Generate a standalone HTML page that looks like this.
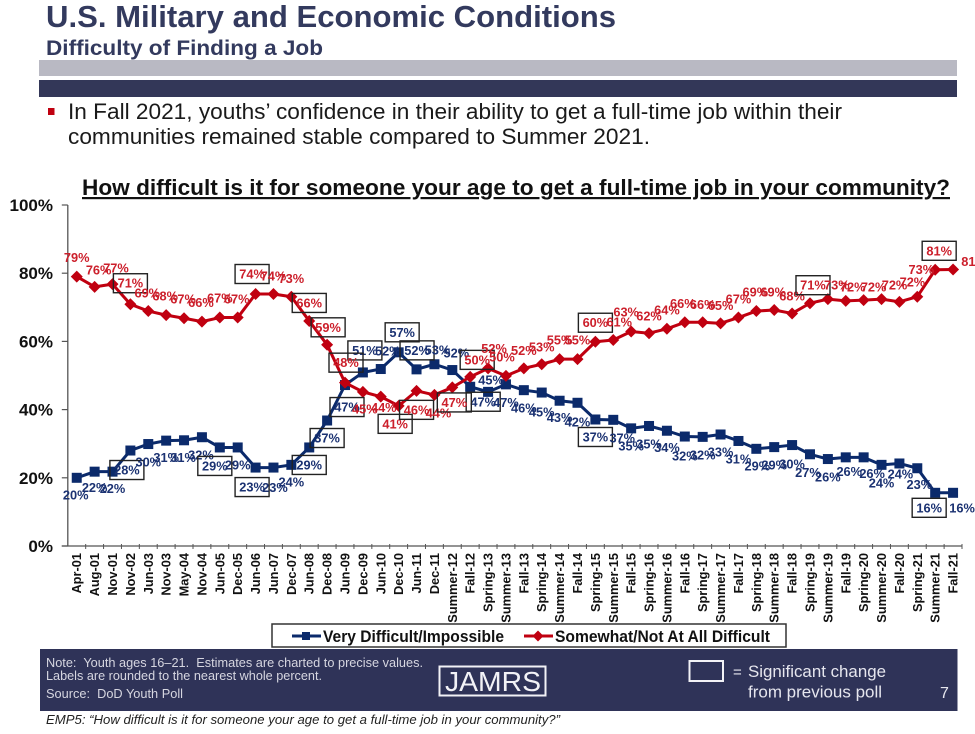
<!DOCTYPE html>
<html lang="en">
<head>
<meta charset="utf-8">
<title>Difficulty of Finding a Job</title>
<style>
html,body{margin:0;padding:0;background:#fff;width:975px;height:734px;overflow:hidden}
svg{display:block;font-family:"Liberation Sans",Arial,sans-serif;filter:blur(0.35px)}
</style>
</head>
<body>
<svg id="slide" xmlns="http://www.w3.org/2000/svg" width="975" height="734" viewBox="0 0 975 734">
  <rect x="0" y="0" width="975" height="734" fill="#ffffff"/>
  <text x="46" y="27" font-size="31" font-weight="700" fill="#333a5e" textLength="570" lengthAdjust="spacingAndGlyphs">U.S. Military and Economic Conditions</text>
  <text x="46" y="55" font-size="21.5" font-weight="700" fill="#333a5e" textLength="277" lengthAdjust="spacingAndGlyphs">Difficulty of Finding a Job</text>
  <rect x="39" y="60" width="918" height="16" fill="#b9b9c3"/>
  <rect x="39" y="80" width="918" height="17" fill="#333758"/>
  <rect x="48" y="108" width="6.5" height="7" fill="#c00010"/>
  <text x="68" y="119" font-size="22" fill="#1a1a1a" textLength="774" lengthAdjust="spacingAndGlyphs">In Fall 2021, youths’ confidence in their ability to get a full-time job within their</text>
  <text x="68" y="144" font-size="22" fill="#1a1a1a" textLength="582" lengthAdjust="spacingAndGlyphs">communities remained stable compared to Summer 2021.</text>
  <text x="82" y="195" font-size="22" font-weight="700" fill="#111" text-decoration="underline" textLength="868" lengthAdjust="spacingAndGlyphs">How difficult is it for someone your age to get a full-time job in your community?</text>

  <g id="chart"></g>

  <g>
    <rect x="272" y="624" width="514" height="23" fill="#fff" stroke="#333" stroke-width="1.5"/>
    <line x1="292" y1="636" x2="321" y2="636" stroke="#0b2a6b" stroke-width="3"/>
    <rect x="302" y="632" width="8" height="8" fill="#0b2a6b"/>
    <text x="323" y="642" font-size="16.5" font-weight="700" fill="#111" textLength="181" lengthAdjust="spacingAndGlyphs">Very Difficult/Impossible</text>
    <line x1="524" y1="636" x2="553" y2="636" stroke="#c00010" stroke-width="3"/>
    <polygon points="538,630.5 543.5,636 538,641.5 532.5,636" fill="#c00010"/>
    <text x="555" y="642" font-size="16.5" font-weight="700" fill="#111" textLength="215" lengthAdjust="spacingAndGlyphs">Somewhat/Not At All Difficult</text>
  </g>

  <g>
    <rect x="40" y="649" width="917.5" height="62" fill="#2f3358"/>
    <text x="46" y="667" font-size="12.5" fill="#d6d6e0" textLength="377" lengthAdjust="spacingAndGlyphs" xml:space="preserve">Note:  Youth ages 16–21.  Estimates are charted to precise values.</text>
    <text x="46" y="680" font-size="12.5" fill="#d6d6e0" textLength="276" lengthAdjust="spacingAndGlyphs">Labels are rounded to the nearest whole percent.</text>
    <text x="46" y="698" font-size="12.5" fill="#d6d6e0" textLength="137" lengthAdjust="spacingAndGlyphs" xml:space="preserve">Source:  DoD Youth Poll</text>
    <rect x="439.5" y="666.5" width="106" height="29" fill="none" stroke="#f2f2f6" stroke-width="2"/>
    <text x="445" y="691" font-size="28" fill="#f2f2f6" textLength="96" lengthAdjust="spacingAndGlyphs">JAMRS</text>
    <rect x="689.5" y="661" width="33.5" height="20" fill="none" stroke="#f2f2f6" stroke-width="2"/>
    <text x="733" y="677" font-size="15" fill="#e6e6ee">=</text>
    <text x="748" y="677" font-size="17" fill="#e6e6ee" textLength="138" lengthAdjust="spacingAndGlyphs">Significant change</text>
    <text x="748" y="697.5" font-size="17" fill="#e6e6ee" textLength="134" lengthAdjust="spacingAndGlyphs">from previous poll</text>
    <text x="940" y="698" font-size="16" fill="#e6e6ee">7</text>
  </g>
  <text x="46" y="724" font-size="12.5" font-style="italic" fill="#222" textLength="514" lengthAdjust="spacingAndGlyphs">EMP5:  “How difficult is it for someone your age to get a full-time job in your community?”</text>
</svg>

<script>
var categories = ["Apr-01","Aug-01","Nov-01","Nov-02","Jun-03","Nov-03","May-04","Nov-04","Jun-05","Dec-05","Jun-06","Jun-07","Dec-07","Jun-08","Dec-08","Jun-09","Dec-09","Jun-10","Dec-10","Jun-11","Dec-11","Summer-12","Fall-12","Spring-13","Summer-13","Fall-13","Spring-14","Summer-14","Fall-14","Spring-15","Summer-15","Fall-15","Spring-16","Summer-16","Fall-16","Spring-17","Summer-17","Fall-17","Spring-18","Summer-18","Fall-18","Spring-19","Summer-19","Fall-19","Spring-20","Summer-20","Fall-20","Spring-21","Summer-21","Fall-21"];
var veryDifficult = [20,21.8,21.8,28,29.9,30.9,31,31.9,28.9,28.9,23,23,23.8,28.9,36.8,47.2,50.9,51.9,56.8,51.8,53.3,51.6,46.7,45.2,47.4,45.7,45,42.6,42,37.1,37,34.5,35.2,33.8,32.1,32,32.7,30.8,28.5,29,29.6,26.9,25.5,26,26,23.8,24.2,22.8,15.6,15.6];
var somewhatDifficult = [79,76,76.8,70.9,68.9,67.7,66.8,65.8,67,67,73.9,73.9,73.1,66,59,47.9,45.2,43.8,41.1,45.5,44.3,46.5,49.6,52.1,49.9,52.1,53.3,54.8,54.8,59.9,60.4,62.9,62.4,63.7,65.6,65.6,65.3,67,68.9,69.2,68.2,71.2,72.4,71.9,72.1,72.4,71.6,73.1,81,81.1];
var veryLabels = [20,22,22,28,30,31,31,32,29,29,23,23,24,29,37,47,51,52,57,52,53,52,47,45,47,46,45,43,42,37,37,35,35,34,32,32,33,31,29,29,30,27,26,26,26,24,24,23,16,16];
var somewhatLabels = [79,76,77,71,69,68,67,66,67,67,74,74,73,66,59,48,45,44,41,46,44,47,50,52,50,52,53,55,55,60,61,63,62,64,66,66,65,67,69,69,68,71,73,72,72,72,72,73,81,81];
var yTicks = [0,20,40,60,80,100];
var veryChanged = [3,8,10,13,14,15,16,18,19,22,29,48];
var somewhatChanged = [3,10,13,14,15,18,19,21,22,29,41,48];

/* label placement nudges relative to each marker (layout, not data) */
var veryNudgeX = [-1,0,0,-3.5,0,0,-1,-1,-5,0,-3.5,1.5,0,0,0,2,2,7,3.5,0.5,3,4,13,3,0,0,0,0,0,0,9,0,0,0,0,0,0,0,1,0,0,-2,0,3.5,8.5,0,1,2,-6,9];
var veryNudgeY = [17,16,17,19.5,18,17,17,18,18.5,17.5,19.5,20,17,17.5,17.5,22,-22,-18,-20,-19,-14,-17,15,-12,18,18,19.5,17,19,17.5,18,17.5,18,17,19.5,18,17.5,18,17,18,19,18,18,14,16,18,10.5,16,15,15];
var somewhatNudgeX = [0,4,3.5,0,-1,-1,-1,-1,0,-1,-3.5,0,0,0,1,1,2,3,-3.5,0,4,2,7,6,-4,0,0,0,0,0,6,-5,0,0,-2,0,0,0,-1,-1,0,3,9,7,10,13,13,4,4,21];
var somewhatNudgeY = [-19,-17,-16,-21,-18,-19,-19,-19,-19.5,-18.5,-20,-18,-18,-18,-17.5,-20,17,11,18,19,18,15,-17,-20,-19,-18,-17,-19,-19,-19,-18,-19.5,-17,-19,-19,-18,-18,-18.5,-19,-18,-17.5,-18,-14,-14,-13,-14,-20,-27,-19,-8];

var NS = "http://www.w3.org/2000/svg";
var chart = document.getElementById("chart");
var plotLeft = 67.8, plotRight = 962, plotTop = 205, plotBottom = 546;
var step = (plotRight - plotLeft) / categories.length;
function xScale(i){ return plotLeft + step * (i + 0.5); }
function yScale(v){ return plotBottom - (v / 100) * (plotBottom - plotTop); }
function make(tag, attrs, parent){
  var el = document.createElementNS(NS, tag);
  for (var k in attrs) el.setAttribute(k, attrs[k]);
  (parent || chart).appendChild(el);
  return el;
}

/* axes */
var yAxis = make("line", {x1:plotLeft, y1:plotTop, x2:plotLeft, y2:plotBottom, stroke:"#555", "stroke-width":1.3});


var xAxis = make("line", {x1:plotLeft-6, y1:plotBottom, x2:plotRight, y2:plotBottom, stroke:"#555", "stroke-width":1.3});



yTicks.forEach(function(t){
  var tick = make("line", {x1:plotLeft-6, y1:yScale(t), x2:plotLeft, y2:yScale(t), stroke:"#555", "stroke-width":1.2});
  
  
  var lab = make("text", {x:53, y:yScale(t)+6, "text-anchor":"end", "font-size":17, "font-weight":700, fill:"#111"});
  lab.textContent = t + "%";
  
  
});

categories.forEach(function(c, i){
  var edge = plotLeft + step * (i + 1);
  var tick = make("line", {x1:edge, y1:plotBottom-2, x2:edge, y2:plotBottom+3, stroke:"#555", "stroke-width":1});
  
  
  var lx = xScale(i) + 4.5, ly = 553;
  var lab = make("text", {x:lx, y:ly, transform:"rotate(-90 "+lx+" "+ly+")", "text-anchor":"end", "font-size":12.8, "font-weight":700, fill:"#111"});
  lab.textContent = c;
  
  
});

function drawSeries(name, values, color, marker){
  var g = make("g", {});
  
  
  var pts = values.map(function(v, i){ return xScale(i).toFixed(2) + "," + yScale(v).toFixed(2); }).join(" ");
  var line = make("polyline", {points:pts, fill:"none", stroke:color, "stroke-width":3, "stroke-linejoin":"round"}, g);
  
  
  values.forEach(function(v, i){
    var x = xScale(i), y = yScale(v), m;
    if (marker === "square") {
      m = make("rect", {x:x-5, y:y-5, width:10, height:10, fill:color}, g);
    } else {
      var r = 6;
      m = make("polygon", {points:[x,y-r,x+r,y,x,y+r,x-r,y].join(" "), fill:color}, g);
    }
    
    
  });
}
function drawLabels(name, values, labels, changed, nudgeX, nudgeY, color){
  values.forEach(function(v, i){
    var cx = xScale(i) + nudgeX[i], cy = yScale(v) + nudgeY[i];
    if (changed.indexOf(i) >= 0) {
      var box = make("rect", {x:cx-17, y:cy-9.5, width:34, height:19, fill:"none", stroke:"#222", "stroke-width":1.4});
      
      
    }
    var t = make("text", {x:cx, y:cy+4.5, "text-anchor":"middle", "font-size":12.8, "font-weight":700, fill:color});
    t.textContent = labels[i] + "%";
    
    
  });
}
drawSeries("very-difficult", veryDifficult, "#0b2a6b", "square");
drawSeries("somewhat-difficult", somewhatDifficult, "#c00010", "diamond");
drawLabels("very-difficult", veryDifficult, veryLabels, veryChanged, veryNudgeX, veryNudgeY, "#1b3272");
drawLabels("somewhat-difficult", somewhatDifficult, somewhatLabels, somewhatChanged, somewhatNudgeX, somewhatNudgeY, "#cc1f2b");
</script>
</body>
</html>
